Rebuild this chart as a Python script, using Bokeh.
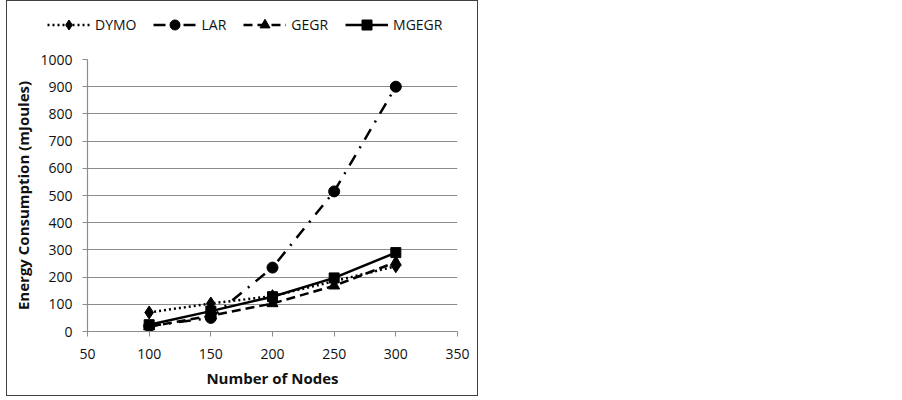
from bokeh.plotting import figure
from bokeh.layouts import column
from bokeh.models import Range1d, FixedTicker, Legend, LegendItem
from bokeh.embed import file_html
from bokeh.resources import INLINE

nodes = [100, 150, 200, 250, 300]
dymo = [70, 103, 130, 185, 240]
lar = [20, 50, 235, 515, 900]
gegr = [18, 58, 103, 168, 255]
mgegr = [25, 75, 128, 197, 290]
x_ticks = [50, 100, 150, 200, 250, 300, 350]
y_ticks = [0, 100, 200, 300, 400, 500, 600, 700, 800, 900, 1000]

FONT = "Open Sans"
W = 2.5
series = [
    ("DYMO", dymo, "2 3", "diamond", 13),
    ("LAR", lar, "12 8 2 8", "circle", 11),
    ("GEGR", gegr, "9 5", "triangle", 11),
    ("MGEGR", mgegr, "solid", "square", 10),
]

# main chart
p = figure(frame_width=370, frame_height=272, min_border_left=80, min_border_right=20,
           min_border_top=20, min_border_bottom=64, output_backend="svg", toolbar_location=None,
           x_range=Range1d(50, 350), y_range=Range1d(0, 1000))
p.frame_align = False
p.outline_line_color = None
p.xgrid.grid_line_color = None
p.ygrid.grid_line_color = "#8c8c8c"
p.ygrid.grid_line_width = 1.2
p.xaxis.ticker = FixedTicker(ticks=x_ticks)
p.yaxis.ticker = FixedTicker(ticks=y_ticks)
for ax in (p.xaxis, p.yaxis):
    ax.axis_line_color = "#8c8c8c"
    ax.axis_line_width = 1.2
    ax.major_tick_line_color = "#8c8c8c"
    ax.major_tick_out = 5
    ax.major_tick_in = 0
    ax.minor_tick_line_color = None
    ax.major_label_text_font = FONT
    ax.major_label_text_font_size = "14px"
    ax.major_label_text_color = "#111111"
    ax.axis_label_text_font = FONT
    ax.axis_label_text_font_size = "15px"
    ax.axis_label_text_font_style = "bold"
    ax.axis_label_text_color = "#111111"
p.xaxis.axis_label = "Number of Nodes"
p.yaxis.axis_label = "Energy Consumption (mJoules)"
p.xaxis.major_label_standoff = 12
p.yaxis.major_label_standoff = 10
p.xaxis.axis_label_standoff = 6
p.yaxis.axis_label_standoff = 4

for name, vals, dash, marker, size in series:
    p.line(nodes, vals, line_color="black", line_width=W, line_dash=dash)
    p.scatter(nodes, vals, marker=marker, size=size, color="black")

# legend strip (its sample glyphs use the same series, outside its visible range)
lg = figure(frame_width=470, frame_height=38, min_border=0, output_backend="svg", toolbar_location=None,
            x_range=Range1d(0, 1), y_range=Range1d(0, 1),
            x_axis_location=None, y_axis_location=None)
lg.frame_align = False
lg.outline_line_color = None
lg.grid.grid_line_color = None
items = []
for name, vals, dash, marker, size in series:
    r1 = lg.line(nodes, vals, line_color="black", line_width=W, line_dash=dash)
    r2 = lg.scatter(nodes, vals, marker=marker, size=size, color="black")
    items.append(LegendItem(label=name, renderers=[r1, r2]))
legend = Legend(items=items, orientation="horizontal", location=(40, 2))
legend.glyph_width = 43
legend.glyph_height = 25
legend.label_standoff = 5
legend.spacing = 17
legend.padding = 0
legend.margin = 0
legend.border_line_color = None
legend.background_fill_alpha = 0
legend.label_text_font = FONT
legend.label_text_font_size = "14px"
legend.label_text_color = "#111111"
lg.add_layout(legend, "center")

layout = column(lg, p, spacing=0)
layout.styles = {"border": "1.5px solid #404040", "margin-left": "6px", "background": "white"}

open("out.html", "w").write(file_html(layout, INLINE))
